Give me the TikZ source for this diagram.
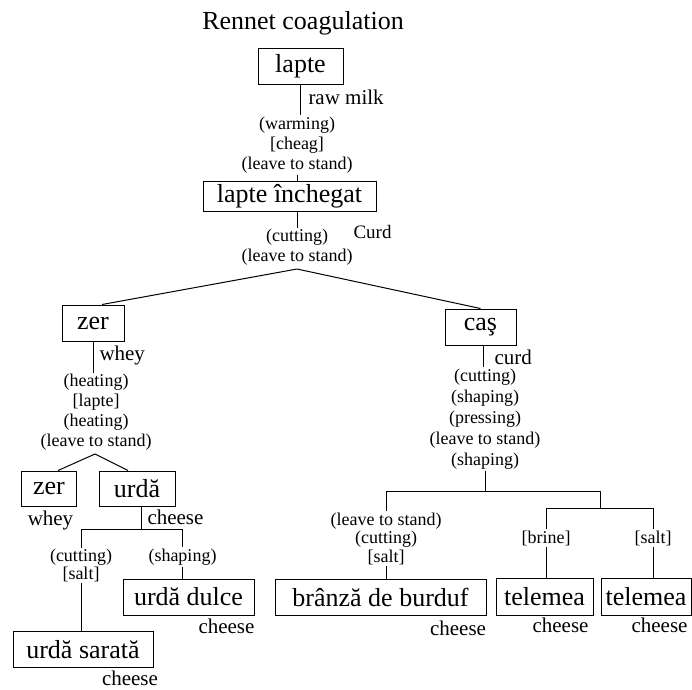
\documentclass[tikz,border=0pt]{standalone}
\usepackage{fontspec}
\setmainfont{Liberation Serif}
\tikzstyle{product}=[draw,line width=1pt,inner sep=0pt,minimum height=36pt,font=\fontsize{26}{28}\selectfont]
\tikzstyle{stepnote}=[align=center,inner sep=1pt,font=\fontsize{18}{20}\selectfont]
\tikzstyle{gloss}=[inner sep=0pt,font=\fontsize{21}{23}\selectfont]

\begin{document}
\begin{tikzpicture}[x=1pt,y=-1pt,line width=1pt]
\useasboundingbox (0,0) rectangle (692,689);
\node[font=\fontsize{26}{28}\selectfont] at (303,23) (title) {Rennet coagulation};
% milk to curd
\node[product,minimum width=85pt] at (300.5,66) (lapte) {lapte};
\node[gloss,anchor=west] at (308,97) (rawmilk) {raw milk};
\node[stepnote] at (297,145) (warm) {(warming)\\ {[cheag]}\\ (leave to stand)};
\node[product,minimum width=173pt,minimum height=30pt] at (289.5,196) (inch) {lapte închegat};
\node[gloss,anchor=west,font=\fontsize{19}{21}\selectfont] at (353,232) (curdA) {Curd};
\node[stepnote] at (297,247.5) (cut) {(cutting)\\ (leave to stand)};
\coordinate (split) at (297,269);
\node[product,minimum width=62pt] at (93,323) (zer) {zer};
\node[product,minimum width=71pt] at (480.5,327) (cas) {caş};
% whey branch
\node[gloss,anchor=west] at (99,355) (whey) {whey};
\node[stepnote] at (96,412.5) (heat) {(heating)\\ {[lapte]}\\ (heating)\\ (leave to stand)};
\coordinate (splitzer) at (95,454);
\node[product,minimum width=55pt,minimum height=35pt] at (49,488.5) (zerB) {zer};
\node[gloss] at (50.5,520) (wheyB) {whey};
\node[product,minimum width=76pt,minimum height=35pt] at (137,488.5) (urda) {urdă};
\node[gloss,anchor=west] at (147,517) (cheeseU) {cheese};
\coordinate (barU) at (141,529);
\node[stepnote,font=\fontsize{18}{15}\selectfont] at (81,565.5) (cutU) {(cutting)\\ {[salt]}};
\node[stepnote] at (182.5,557) (shapeU) {(shaping)};
\node[product,minimum width=140pt] at (83,649.5) (sarata) {urdă sarată};
\node[gloss] at (130,678.5) (cheeseS) {cheese};
\node[product,minimum width=131pt] at (188.5,597) (dulce) {urdă dulce};
\node[gloss] at (226.5,626) (cheeseD) {cheese};
% curd branch
\node[gloss,anchor=west] at (494,357) (curdB) {curd};
\node[stepnote,font=\fontsize{18}{21}\selectfont] at (485,419) (press) {(cutting)\\ (shaping)\\ (pressing)\\ (leave to stand)\\ (shaping)};
\coordinate (barC) at (484,491);
\coordinate (barT) at (600,508);
\node[stepnote,font=\fontsize{18}{18.5}\selectfont] at (386,538.5) (cutB) {(leave to stand)\\ (cutting)\\ {[salt]}};
\node[stepnote] at (546,538) (brine) {[brine]};
\node[stepnote] at (653,538) (saltB) {[salt]};
\node[product,minimum width=211pt] at (380.5,597.5) (branza) {brânză de burduf};
\node[gloss] at (458,628) (cheeseB) {cheese};
\node[product,minimum width=97pt,minimum height=37pt] at (544.5,596.5) (telA) {telemea};
\node[gloss] at (560.5,625) (cheeseTA) {cheese};
\node[product,minimum width=90pt,minimum height=37pt] at (646,596.5) (telB) {telemea};
\node[gloss] at (659.5,625) (cheeseTB) {cheese};
% connectors
\draw (lapte.south) -- (lapte.south |- warm.north);
\draw (warm.south) -- (warm.south |- inch.north);
\draw (cut.north |- inch.south) -- (cut.north);
\draw ([xshift=9pt]zer.north) -- (split) -- (cas.north);
\draw (zer.south) -- (zer.south |- heat.north);
\draw ([xshift=9pt]zerB.north) -- (splitzer) -- ([xshift=-9pt]urda.north);
\draw ([xshift=4pt]urda.south) -- (barU);
\draw (cutU.north) -- (cutU.north |- barU) -- (shapeU.north |- barU) -- (shapeU.north);
\draw (cutU.south) -- (cutU.south |- sarata.north);
\draw (shapeU.south) -- (shapeU.south |- dulce.north);
\draw ([xshift=2.5pt]cas.south) -- ([xshift=2.5pt]cas.south |- press.north);
\draw (press.south) -- (press.south |- barC);
\draw (cutB.north) -- (cutB.north |- barC) -- (barT |- barC) -- (barT);
\draw (brine.north) -- (brine.north |- barT) -- (saltB.north |- barT) -- (saltB.north);
\draw (cutB.south) -- (cutB.south |- branza.north);
\draw (brine.south) -- (brine.south |- telA.north);
\draw (saltB.south) -- (saltB.south |- telB.north);
\end{tikzpicture}
\end{document}
